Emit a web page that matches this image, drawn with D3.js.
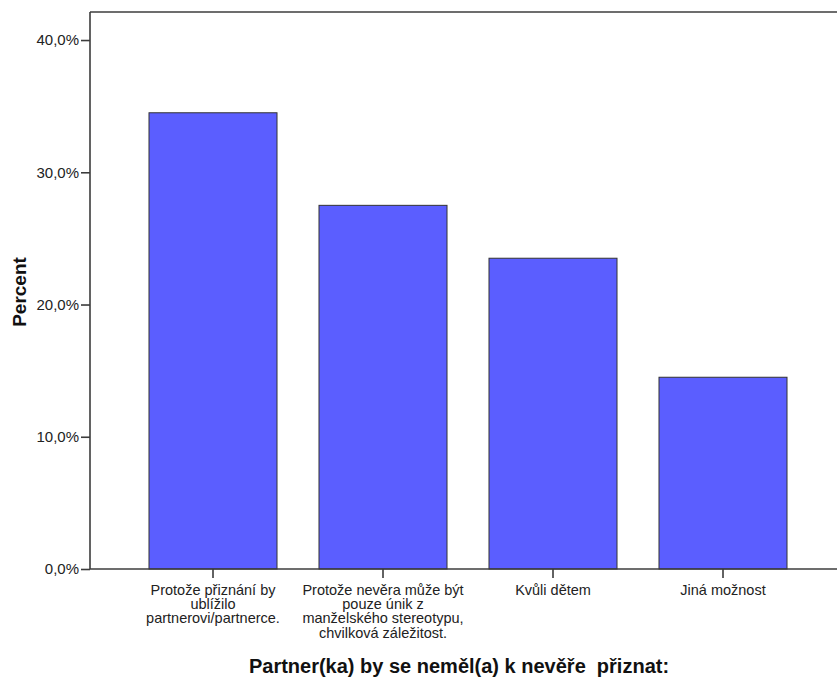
<!DOCTYPE html>
<html>
<head>
<meta charset="utf-8">
<script src="https://cdn.jsdelivr.net/npm/d3@7"></script>
<style>
  html, body { margin: 0; padding: 0; background: #fff; }
  svg { display: block; }
</style>
</head>
<body>
<svg id="chart" width="837" height="677"></svg>
<script>
// ---- data ----
const categories = [
  "Protože přiznání by ublížilo partnerovi/partnerce.",
  "Protože nevěra může být pouze únik z manželského stereotypu, chvilková záležitost.",
  "Kvůli dětem",
  "Jiná možnost"
];
const categoryLines = [
  ["Protože přiznání by", "ublížilo", "partnerovi/partnerce."],
  ["Protože nevěra může být", "pouze únik z", "manželského stereotypu,", "chvilková záležitost."],
  ["Kvůli dětem"],
  ["Jiná možnost"]
];
const percentValues = [34.5, 27.5, 23.5, 14.5];
const yTickValues = [0, 10, 20, 30, 40];
const xTitle = "Partner(ka) by se neměl(a) k nevěře\u00a0 přiznat:";
const yTitle = "Percent";

// ---- layout ----
const svg = d3.select("#chart");
const axisLeftX = 90, plotTop = 12, plotBottom = 569, plotRight = 837;

const y = d3.scaleLinear().domain([0, 42.12]).range([plotBottom, plotTop]);
const x = d3.scaleBand().domain(categories).range([128, 808])
  .paddingInner(0.247).paddingOuter(0.1235);

const frameColor = "#3c3c3c";

// bars
svg.append("g").selectAll("rect")
  .data(categories)
  .join("rect")
  .attr("x", d => x(d))
  .attr("width", x.bandwidth())
  .attr("y", (d, i) => y(percentValues[i]))
  .attr("height", (d, i) => plotBottom - y(percentValues[i]))
  .attr("fill", "#5b5eff")
  .attr("stroke", "#333")
  .attr("stroke-width", 1);

// frame top line
svg.append("line")
  .attr("x1", axisLeftX).attr("x2", plotRight)
  .attr("y1", plotTop).attr("y2", plotTop)
  .attr("stroke", frameColor).attr("stroke-width", 1.6);

// y axis
const fmt = d => d3.format(".1f")(d).replace(".", ",") + "%";
const yAxis = svg.append("g")
  .attr("transform", `translate(${axisLeftX},0)`)
  .call(d3.axisLeft(y).tickValues(yTickValues).tickFormat(fmt).tickSize(9).tickPadding(2).tickSizeOuter(0));
yAxis.select(".domain").attr("stroke", frameColor).attr("stroke-width", 1.6)
  .attr("d", `M0,${plotTop}V${plotBottom}`);
yAxis.selectAll(".tick line").attr("stroke", frameColor).attr("stroke-width", 1.6);
yAxis.selectAll(".tick text")
  .attr("font-family", "'Liberation Sans', Arial, sans-serif")
  .attr("font-size", 15).attr("fill", "#222");

// x axis
const xAxis = svg.append("g")
  .attr("transform", `translate(0,${plotBottom})`)
  .call(d3.axisBottom(x).tickSize(9).tickSizeOuter(0).tickFormat(""));
xAxis.select(".domain").attr("stroke", frameColor).attr("stroke-width", 1.6)
  .attr("d", `M${axisLeftX},0H${plotRight}`);
xAxis.selectAll(".tick line").attr("stroke", frameColor).attr("stroke-width", 1.6);
xAxis.selectAll(".tick text").remove();
xAxis.selectAll(".tick").each(function(d, i) {
  const t = d3.select(this).append("text")
    .attr("font-family", "'Liberation Sans', Arial, sans-serif")
    .attr("font-size", 14.5).attr("fill", "#222")
    .attr("text-anchor", "middle")
    .attr("y", 25.5);
  categoryLines[i].forEach((line, j) => {
    t.append("tspan").attr("x", 0).attr("dy", j === 0 ? 0 : 14.4).text(line);
  });
});

// axis titles
svg.append("text")
  .attr("x", 459).attr("y", 673)
  .attr("text-anchor", "middle")
  .attr("font-family", "'Liberation Sans', Arial, sans-serif")
  .attr("font-weight", "bold").attr("font-size", 20).attr("fill", "#111")
  .text(xTitle);

svg.append("text")
  .attr("transform", "translate(26,292) rotate(-90)")
  .attr("text-anchor", "middle")
  .attr("font-family", "'Liberation Sans', Arial, sans-serif")
  .attr("font-weight", "bold").attr("font-size", 19).attr("fill", "#111")
  .text(yTitle);
</script>
</body>
</html>
